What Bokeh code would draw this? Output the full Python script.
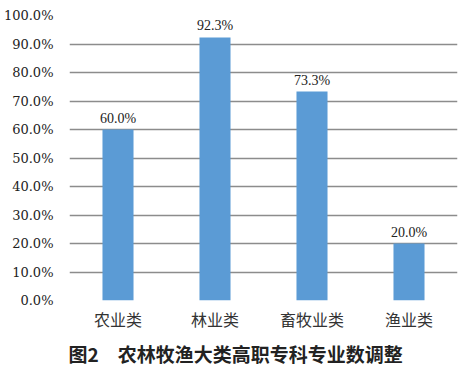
from bokeh.plotting import figure
from bokeh.models import ColumnDataSource, Title, FixedTicker, LabelSet, Range1d
from bokeh.embed import file_html
from bokeh.resources import INLINE

categories = ["农业类", "林业类", "畜牧业类", "渔业类"]
values = [60.0, 92.3, 73.3, 20.0]
y_ticks = [0, 10, 20, 30, 40, 50, 60, 70, 80, 90, 100]
title_text = "图2\u3000农林牧渔大类高职专科专业数调整"

CJK = "Noto Sans CJK SC"
SERIF = "DejaVu Serif"

labels = [f"{v:.1f}%" for v in values]
src = ColumnDataSource(dict(cat=categories, val=values, lab=labels))

p = figure(x_range=categories, width=473, height=370, output_backend="svg",
           toolbar_location=None, min_border_left=69, min_border_right=16,
           min_border_top=15, min_border_bottom=8)
p.y_range = Range1d(0, 100)
p.vbar(x="cat", top="val", width=0.32, source=src, color="#5B9BD5", line_color=None)

p.add_layout(LabelSet(x="cat", y="val", text="lab", source=src, y_offset=4,
                      text_align="center", text_baseline="bottom",
                      text_font=SERIF, text_font_size="14px",
                      text_color="#222222"))

p.yaxis.ticker = FixedTicker(ticks=y_ticks)
p.yaxis.major_label_overrides = {t: f"{t:.1f}%" for t in y_ticks}
p.yaxis.axis_line_color = None
p.yaxis.major_tick_line_color = None
p.yaxis.minor_tick_line_color = None
p.yaxis.major_label_text_font = SERIF
p.yaxis.major_label_text_font_size = "13px"
p.yaxis.major_label_text_color = "#222222"
p.yaxis.major_label_standoff = 10

p.xaxis.axis_line_color = None
p.xaxis.major_tick_line_color = None
p.xaxis.major_label_text_font = CJK
p.xaxis.major_label_text_font_size = "16px"
p.xaxis.major_label_text_color = "#333333"
p.xaxis.major_label_standoff = 0

p.xgrid.grid_line_color = None
p.ygrid.grid_line_color = "#8c8c8c"
p.ygrid.grid_line_width = 1.5
p.outline_line_color = None

t = Title(text=title_text, align="left", offset=-1, text_font=CJK,
          text_font_size="19px", text_font_style="bold", text_color="#222222",
          standoff=8)
p.add_layout(t, "below")

open("out.html", "w").write(file_html(p, INLINE))
